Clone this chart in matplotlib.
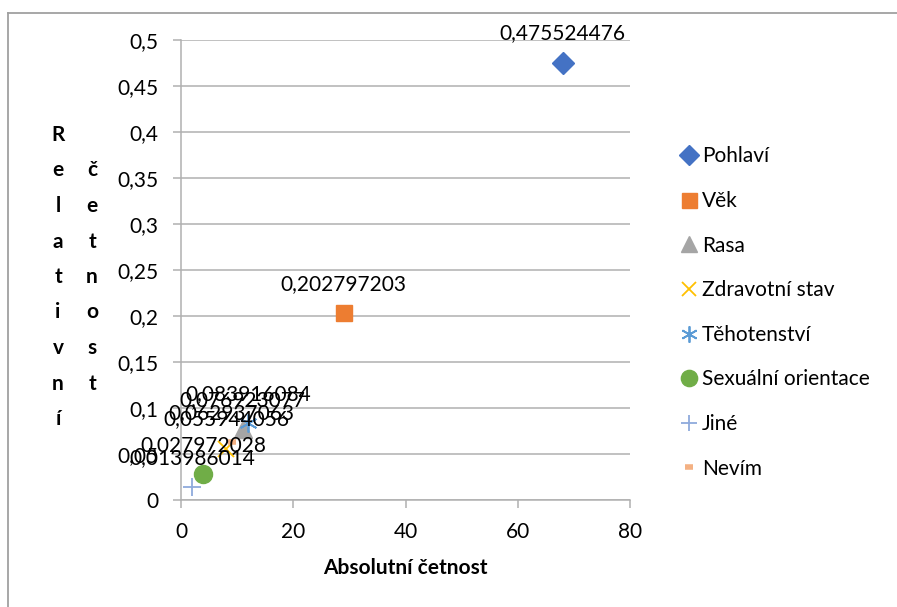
import matplotlib
matplotlib.use("Agg")
import matplotlib.pyplot as plt
from matplotlib.lines import Line2D

plt.rcParams['font.family'] = ['Lato', 'DejaVu Sans']

series = ["Pohlaví", "Věk", "Rasa", "Zdravotní stav", "Těhotenství",
          "Sexuální orientace", "Jiné", "Nevím"]
abs_counts = [68, 29, 11, 8, 12, 4, 2, 9]
rel_values = [0.475524476, 0.202797203, 0.076923077, 0.055944056,
              0.083916084, 0.027972028, 0.013986014, 0.062937063]
value_labels = ["0,475524476", "0,202797203", "0,076923077", "0,055944056",
                "0,083916084", "0,027972028", "0,013986014", "0,062937063"]
colors = ["#4472C4", "#ED7D31", "#A5A5A5", "#FFC000", "#5B9BD5",
          "#70AD47", "#8FAADC", "#F4B183"]
markers = ["D", "s", "^", "x", (6, 2, 0), "o", "+", "_"]
msizes = [11, 12, 13, 11, 13, 13, 13, 6]
mews = [1, 1, 1, 1.3, 1.3, 1, 1.3, 4]

x_ticks = [0, 20, 40, 60, 80]
y_ticks = [0, 0.05, 0.1, 0.15, 0.2, 0.25, 0.3, 0.35, 0.4, 0.45, 0.5]
y_tick_labels = ["0", "0,05", "0,1", "0,15", "0,2", "0,25", "0,3", "0,35",
                 "0,4", "0,45", "0,5"]

W, H = 897, 607
fig = plt.figure(figsize=(W / 100, H / 100), dpi=100)
ax = fig.add_axes([181 / W, 1 - 500 / H, (630 - 181) / W, (500 - 40) / H])

ax.set_xlim(0, 80)
ax.set_ylim(0, 0.5)
ax.set_xticks(x_ticks)
ax.set_xticklabels([str(t) for t in x_ticks])
ax.set_yticks(y_ticks)
ax.set_yticklabels(y_tick_labels)
ax.yaxis.grid(True, color="#B0B0B0", linewidth=1.1)
ax.set_axisbelow(True)
for s in ["top", "right"]:
    ax.spines[s].set_visible(False)
for s in ["left", "bottom"]:
    ax.spines[s].set_color("#B0B0B0")
    ax.spines[s].set_linewidth(1.1)
ax.tick_params(axis="both", length=5.5, width=1.1, color="#B0B0B0",
               labelsize=15, labelcolor="black", direction="out")
ax.tick_params(axis="y", pad=11)
ax.tick_params(axis="x", pad=10)

handles = []
for i, name in enumerate(series):
    kw = dict(marker=markers[i], markersize=msizes[i], linestyle="none",
              color=colors[i], markeredgewidth=mews[i], label=name,
              clip_on=False, zorder=3)
    if markers[i] not in ("x", "+", "_") and not isinstance(markers[i], tuple):
        kw["markeredgecolor"] = colors[i]
    h, = ax.plot([abs_counts[i]], [rel_values[i]], **kw)
    handles.append(h)

for i in range(len(series)):
    ax.annotate(value_labels[i], (abs_counts[i], rel_values[i]),
                xytext=(0, 21), textcoords="offset points",
                ha="center", va="center", fontsize=15, color="black",
                zorder=4, annotation_clip=False)

ax.set_xlabel("Absolutní četnost", fontsize=15, fontweight="bold", labelpad=12)

# Stacked vertical axis title
col1 = "Relativní"
col2 = "četnost"
y0, step = 135, 35.5
for k, ch in enumerate(col1):
    fig.text(58 / W, 1 - (y0 + k * step) / H, ch, ha="center", va="center",
             fontsize=15, fontweight="bold")
for k, ch in enumerate(col2):
    fig.text(92 / W, 1 - (y0 + (k + 1) * step) / H, ch, ha="center",
             va="center", fontsize=15, fontweight="bold")

leg = fig.legend(handles=handles, loc="center left",
                 bbox_to_anchor=(672 / W, 1 - 312.5 / H), frameon=False,
                 fontsize=15, handlelength=0.8, handletextpad=0.25,
                 labelspacing=1.18, borderaxespad=0, markerscale=0.9)

# Chart outer frame (only top and left visible)
fig.add_artist(Line2D([8 / W, 1], [1 - 13 / H, 1 - 13 / H],
                      transform=fig.transFigure, color="#A0A0A0", linewidth=1.3))
fig.add_artist(Line2D([8 / W, 8 / W], [1 - 13 / H, 0],
                      transform=fig.transFigure, color="#A0A0A0", linewidth=1.3))

fig.savefig("out.png", dpi=100, facecolor="white")
